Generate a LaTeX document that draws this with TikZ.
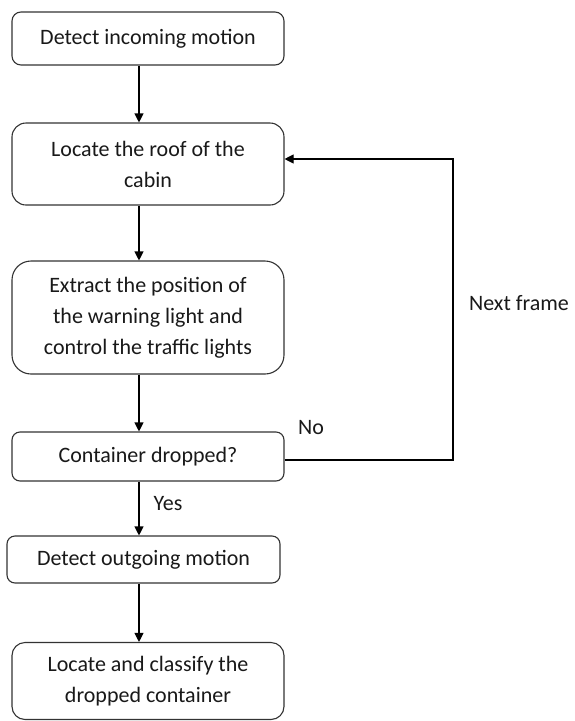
\documentclass[tikz,border=0pt]{standalone}
\usepackage{fontspec}
\setmainfont{Carlito}
\usetikzlibrary{arrows.meta}
\begin{document}
\begin{tikzpicture}[x=1pt,y=1pt,
  every node/.style={font=\fontsize{22}{31}\selectfont, text=black!90},
  stepbox/.style={draw=black!80, line width=1.1pt, fill=white, align=center,
    inner sep=0pt, minimum width=272pt},
  flow/.style={draw=black, line width=1.1pt, -{Triangle[length=9pt,width=9pt]}},
  lbl/.style={inner sep=0pt}]
\useasboundingbox (0,0) rectangle (574,-721);

% process steps
\node[stepbox, rounded corners=9pt,  minimum height=53pt]  (b1) at (148,-38.5) {Detect incoming motion};
\node[stepbox, rounded corners=14pt, minimum height=82pt]  (b2) at (148,-164)  {Locate the roof of the\\cabin};
\node[stepbox, rounded corners=19pt, minimum height=113pt] (b3) at (148,-317.5) {Extract the position of\\the warning light and\\control the traffic lights};
\node[stepbox, rounded corners=8pt,  minimum height=49pt]  (b4) at (148,-456.5) {Container dropped?};
\node[stepbox, rounded corners=8pt,  minimum height=47pt, minimum width=273pt] (b5) at (143.5,-559.5) {Detect outgoing motion};
\node[stepbox, rounded corners=13pt, minimum height=77pt]  (b6) at (148,-681)  {Locate and classify the\\dropped container};

% vertical connector line and loop column
\coordinate (ax) at (139,0);
\coordinate (lx) at (453,0);

\draw[flow] (b1.south -| ax) -- (b2.north -| ax);
\draw[flow] (b2.south -| ax) -- (b3.north -| ax);
\draw[flow] (b3.south -| ax) -- (b4.north -| ax);
\draw[flow] (b4.south -| ax) -- (b5.north -| ax);
\draw[flow] (b5.south -| ax) -- (b6.north -| ax);

% "No" branch back to the roof step
\draw[flow] ([yshift=-3.5pt]b4.east) -- ([yshift=-3.5pt]b4.east -| lx) |- ([yshift=5pt]b2.east);

% branch labels
\node[lbl] (yes) at (168,-504) {Yes};
\node[lbl] (no) at (311,-428) {No};
\node[lbl] (nf) at (519,-303) {Next frame};
\end{tikzpicture}
\end{document}
